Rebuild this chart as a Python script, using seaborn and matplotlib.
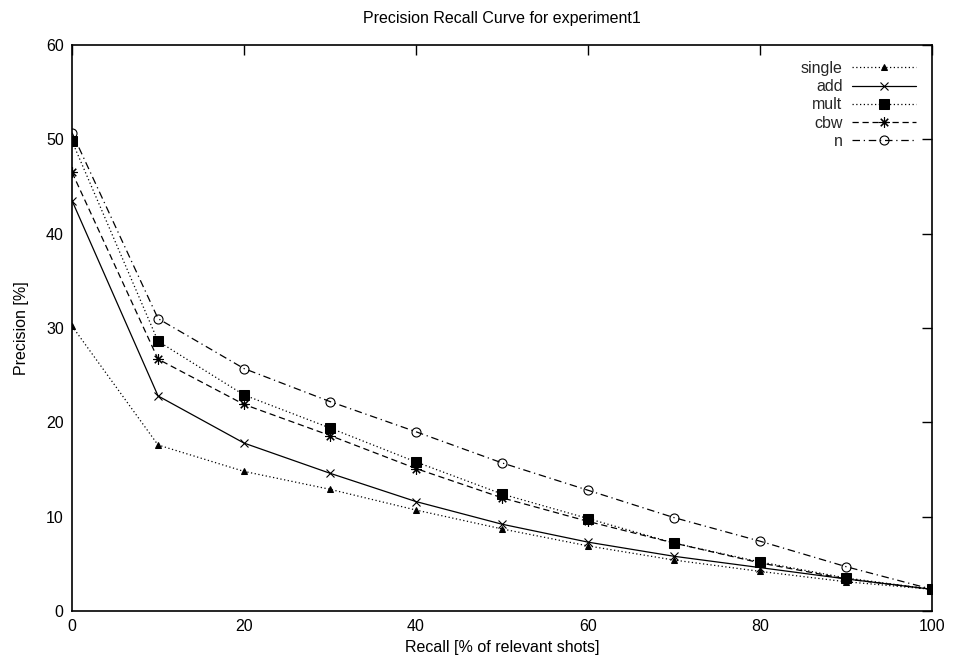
import matplotlib
matplotlib.use("Agg")
import matplotlib.pyplot as plt
import pandas as pd
import seaborn as sns

recall = [0, 10, 20, 30, 40, 50, 60, 70, 80, 90, 100]
single = [30.2, 17.6, 14.8, 12.9, 10.7, 8.7, 6.9, 5.4, 4.2, 3.1, 2.3]
add = [43.5, 22.8, 17.8, 14.6, 11.6, 9.2, 7.3, 5.8, 4.6, 3.4, 2.3]
mult = [49.8, 28.6, 22.9, 19.4, 15.8, 12.4, 9.8, 7.2, 5.2, 3.5, 2.3]
cbw = [46.5, 26.7, 21.9, 18.6, 15.1, 12.0, 9.5, 7.2, 5.1, 3.4, 2.3]
n = [50.7, 31.0, 25.7, 22.2, 19.0, 15.7, 12.8, 9.9, 7.4, 4.7, 2.3]

sns.set_theme(style="white")
plt.rcParams["font.family"] = ["Liberation Sans", "DejaVu Sans"]

series = {"single": single, "add": add, "mult": mult, "cbw": cbw, "n": n}
styles = {
    "single": dict(linestyle=(0, (1, 2)), marker="^", markersize=5, markerfacecolor="black"),
    "add": dict(linestyle="-", marker="x", markersize=6, markeredgewidth=0.8),
    "mult": dict(linestyle=(0, (1, 2)), marker="s", markersize=6.5, markerfacecolor="black"),
    "cbw": dict(linestyle=(0, (5, 3)), marker=(8, 2, 0), markersize=7.5, markeredgewidth=0.8),
    "n": dict(linestyle=(0, (6, 3, 1, 3)), marker="o", markersize=6.5, markerfacecolor="none",
              markeredgewidth=0.8),
}

fig = plt.figure(figsize=(9.58, 6.69), dpi=100)
ax = fig.add_axes([0.0752, 0.0867, 0.8977, 0.846])

for name, vals in series.items():
    df = pd.DataFrame({"recall": recall, "precision": vals})
    sns.lineplot(data=df, x="recall", y="precision", ax=ax, color="black",
                 linewidth=0.9, markeredgecolor="black", label=name, **styles[name])

ax.set_xlim(0, 100)
ax.set_ylim(0, 60)
ax.set_xticks(range(0, 101, 20))
ax.set_yticks(range(0, 61, 10))
ax.tick_params(direction="in", length=7, width=1, top=True, right=True,
               labelsize=11.5, colors="black", pad=6)
ax.tick_params(axis="x", labeltop=False)
for s in ax.spines.values():
    s.set_color("black")
    s.set_linewidth(1.2)

ax.set_xlabel("Recall [% of relevant shots]", fontsize=11.5, color="black", labelpad=4)
ax.set_ylabel("Precision [%]", fontsize=11.5, color="black", labelpad=12)
ax.set_title("Precision Recall Curve for experiment1", fontsize=11.5, color="black", pad=16)

ax.legend(loc="upper right", frameon=False, markerfirst=False, handlelength=4,
          fontsize=11.5, labelspacing=0.2, borderaxespad=0.6, handletextpad=0.6,
          alignment="right")

fig.savefig("out.png", dpi=100, facecolor="white")
